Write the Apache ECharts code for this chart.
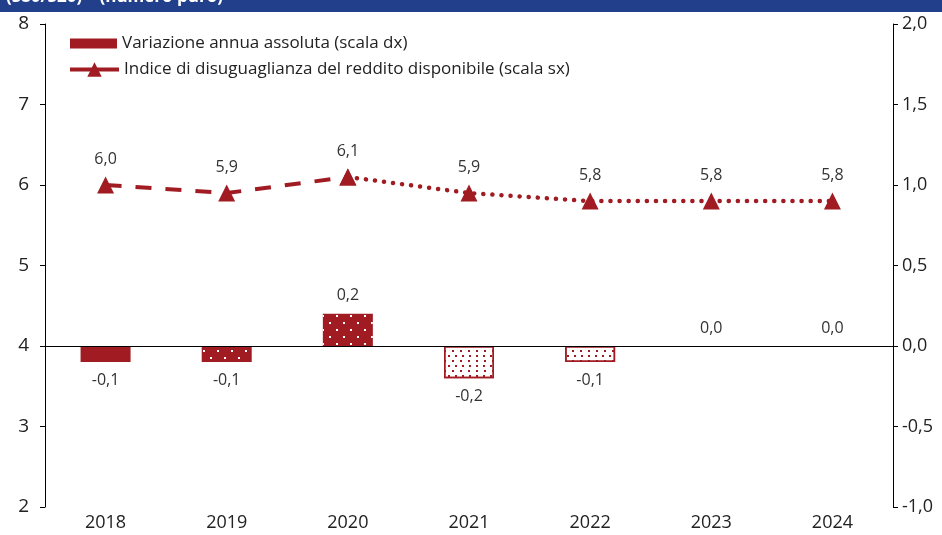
<!DOCTYPE html>
<html>
<head>
<meta charset="utf-8">
<title>Indice S80/S20</title>
<script src="https://cdn.jsdelivr.net/npm/echarts@6/dist/echarts.min.js"></script>
<style>
  html, body { margin: 0; padding: 0; background: #fff; }
  #chart { width: 942px; height: 535px; }
</style>
</head>
<body>
<div id="chart"></div>
<script>
// data
const years = ['2018', '2019', '2020', '2021', '2022', '2023', '2024']
const indice = [6.0, 5.9, 6.1, 5.9, 5.8, 5.8, 5.8]
const variazione = [-0.1, -0.1, 0.2, -0.2, -0.1, 0.0, 0.0]
const leftTicks = [2, 8, 1]
const rightTicks = [-1, 2, 0.5]

const barName = 'Variazione annua assoluta (scala dx)'
const lineName = 'Indice di disuguaglianza del reddito disponibile (scala sx)'

const red = '#A01C22'
const font = 'Open Sans'

function fmt (v) {
  return v.toFixed(1).replace('.', ',')
}

// bar patterns: solid, sparse white dots, dotted on white
const whiteDots = {
  symbol: 'rect', symbolSize: 1, color: '#fff',
  dashArrayX: [[2, 12], [0, 7, 2, 5]], dashArrayY: [2, 5]
}
const redDots = {
  symbol: 'rect', symbolSize: 1, color: red,
  dashArrayX: [[2, 5], [0, 3.5, 2, 1.5]], dashArrayY: [2, 2.5]
}
const barStyles = [
  { color: red },
  { color: red, decal: whiteDots },
  { color: red, decal: whiteDots },
  { color: '#fff', borderColor: red, borderWidth: 1.5, decal: redDots },
  { color: '#fff', borderColor: red, borderWidth: 1.5, decal: redDots },
  { color: red },
  { color: red }
]

const barData = variazione.map((v, i) => ({
  value: v,
  itemStyle: barStyles[i],
  label: { position: v < 0 ? 'bottom' : 'top' }
}))

const dashed = indice.map((v, i) => (i <= 2 ? v : null))
const dotted = indice.map((v, i) => (i >= 2 ? v : null))

const legendText = { fontSize: 17, color: '#222', fontFamily: font }

const chart = echarts.init(document.getElementById('chart'))

chart.setOption({
  animation: false,
  textStyle: { fontFamily: font },
  graphic: [
    { type: 'rect', left: 0, top: 0, shape: { width: 942, height: 12 }, style: { fill: '#213F8B' } },
    { type: 'text', left: 6, top: -11, style: { text: '(S80/S20) – (numero puro)', fill: '#fff', font: 'bold 17px Open Sans' } }
  ],
  grid: { left: 45, right: 49, top: 24, bottom: 28 },
  legend: [
    {
      left: 65, top: 30,
      itemWidth: 47, itemHeight: 10,
      itemGap: 4,
      textStyle: legendText,
      data: [{ name: barName, icon: 'rect' }]
    },
    {
      left: 63, top: 56,
      itemWidth: 49, itemHeight: 18,
      textStyle: legendText,
      lineStyle: { type: 'solid', width: 4 },
      data: [{ name: lineName }]
    }
  ],
  xAxis: {
    type: 'category',
    data: years,
    axisLine: { lineStyle: { color: '#000' } },
    axisTick: { length: 6, lineStyle: { color: '#000' } },
    axisLabel: { color: '#222', fontSize: 18, margin: 7 }
  },
  yAxis: [
    {
      type: 'value',
      min: leftTicks[0], max: leftTicks[1], interval: leftTicks[2],
      axisLine: { show: true, lineStyle: { color: '#000' } },
      axisTick: { show: true, length: 5, lineStyle: { color: '#000' } },
      axisLabel: { color: '#222', fontSize: 19, margin: 16 },
      splitLine: { show: false }
    },
    {
      type: 'value',
      position: 'right',
      min: rightTicks[0], max: rightTicks[1], interval: rightTicks[2],
      axisLine: { show: true, lineStyle: { color: '#000' } },
      axisTick: { show: true, length: 5, lineStyle: { color: '#000' } },
      axisLabel: { color: '#222', fontSize: 18, margin: 9, formatter: fmt },
      splitLine: { show: false }
    }
  ],
  series: [
    {
      name: barName,
      type: 'bar',
      yAxisIndex: 1,
      barWidth: 50,
      itemStyle: { color: red },
      data: barData,
      label: {
        show: true,
        distance: 10,
        color: '#333',
        fontSize: 16,
        formatter: p => fmt(p.value)
      },
      markLine: {
        silent: true,
        symbol: 'none',
        label: { show: false },
        lineStyle: { color: '#000', width: 1, type: 'solid' },
        data: [{ yAxis: 0 }]
      }
    },
    {
      name: lineName,
      type: 'line',
      yAxisIndex: 0,
      data: dashed,
      symbol: 'triangle',
      symbolSize: 17,
      itemStyle: { color: red },
      lineStyle: { color: red, width: 4, type: [16, 14] },
      label: {
        show: true, position: 'top', distance: 9,
        color: '#333', fontSize: 16,
        formatter: p => fmt(p.value)
      },
      z: 3
    },
    {
      name: lineName,
      type: 'line',
      yAxisIndex: 0,
      data: dotted,
      symbol: 'triangle',
      symbolSize: 17,
      itemStyle: { color: red },
      lineStyle: { color: red, width: 4.5, type: [0.1, 9], cap: 'round' },
      label: {
        show: true, position: 'top', distance: 9,
        color: '#333', fontSize: 16,
        formatter: p => (p.dataIndex === 2 ? '' : fmt(p.value))
      },
      z: 3
    }
  ]
})
</script>
</body>
</html>
